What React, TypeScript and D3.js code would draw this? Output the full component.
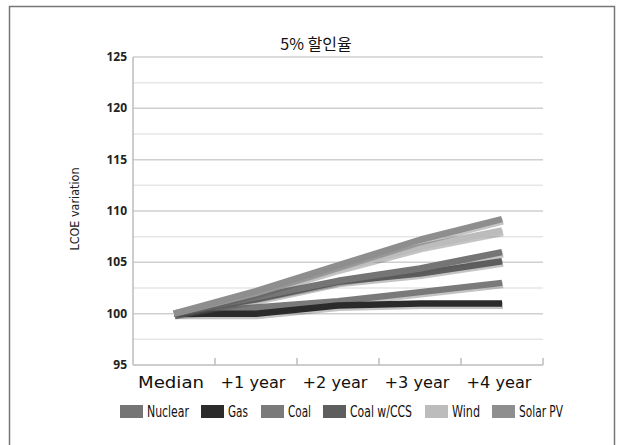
import React from "react";
import * as d3 from "d3";

const categories = ["Median", "+1 year", "+2 year", "+3 year", "+4 year"];
const yTicks = [95, 100, 105, 110, 115, 120, 125];
const seriesNames = ["Nuclear", "Gas", "Coal", "Coal w/CCS", "Wind", "Solar PV"];
const nuclear = [100, 101.6, 103.2, 104.4, 106];
const gas = [100, 100, 100.8, 101, 101];
const coal = [100, 100.6, 101.2, 102.1, 103];
const coalCCS = [100, 101.4, 103.1, 103.9, 105.1];
const wind = [100, 102, 104.4, 106.5, 108.1];
const solarPV = [100, 102.2, 104.7, 107.2, 109.2];
const colors = ["#757575", "#2b2b2b", "#7a7a7a", "#5e5e5e", "#bcbcbc", "#8e8e8e"];
const seriesValues = [nuclear, gas, coal, coalCCS, wind, solarPV];
const drawOrder = [2, 1, 3, 0, 4, 5];

const W = 618, H = 445;
const left = 133, right = 543, top = 57, bottom = 365;

export default function App() {
  const x = d3.scaleBand<string>().domain(categories).range([left, right]);
  const y = d3.scaleLinear().domain([95, 125]).range([bottom, top]);
  const line = d3
    .line<number>()
    .x((_, i) => (x(categories[i]) as number) + x.bandwidth() / 2)
    .y((d) => y(d));
  const minor = d3.range(97.5, 125, 5);
  const narrow = "'DejaVu Sans Condensed', 'Liberation Sans', Arial, sans-serif";
  const legendX = [120, 201, 261, 323, 425, 492];
  const legendW = [42, 20, 23, 62, 28, 44];

  return (
    <svg width={W} height={H} style={{ position: "absolute", left: 0, top: 0 }}>
      <rect x={0} y={0} width={W} height={H} fill="#fff" />
      <rect x={9.5} y={6.5} width={605} height={460} fill="none" stroke="#777" strokeWidth={1.5} />
      {minor.map((v) => (
        <line key={"m" + v} x1={left} x2={right} y1={y(v)} y2={y(v)} stroke="#e6e6e6" strokeWidth={1.5} />
      ))}
      {yTicks.slice(1).map((v) => (
        <line key={"g" + v} x1={left} x2={right} y1={y(v)} y2={y(v)} stroke="#cfcfcf" strokeWidth={1.5} />
      ))}
      <line x1={left} x2={left} y1={top} y2={bottom} stroke="#bdbdbd" strokeWidth={1.5} />
      <line x1={left} x2={right} y1={bottom} y2={bottom} stroke="#bdbdbd" strokeWidth={1.5} />
      {categories.map((c) => (
        <line key={"t" + c} x1={(x(c) as number) + x.bandwidth()} x2={(x(c) as number) + x.bandwidth()} y1={bottom - 7} y2={bottom} stroke="#bdbdbd" strokeWidth={1.5} />
      ))}
      {yTicks.map((v) => (
        <text key={"yl" + v} x={127} y={y(v) + 4} textAnchor="end" fontFamily="'Open Sans', 'DejaVu Sans', sans-serif" fontWeight="bold" fontSize={12} fill="#222">
          {v}
        </text>
      ))}
      <text transform={`translate(79,209) rotate(-90)`} textAnchor="middle" fontFamily={narrow} fontSize={13} fill="#222" textLength={83} lengthAdjust="spacingAndGlyphs">
        LCOE variation
      </text>
      <text x={316} y={50} textAnchor="middle" fontFamily="'Noto Sans CJK KR', 'DejaVu Sans', sans-serif" fontSize={16} fill="#111">
        5% 할인율
      </text>
      {categories.map((c, i) => (
        <text key={"xl" + c} x={(x(c) as number) + x.bandwidth() / 2 - 3} y={388} textAnchor="middle" fontFamily="'DejaVu Sans', sans-serif" fontSize={15} fill="#111" textLength={i === 0 ? 66 : 65} lengthAdjust="spacingAndGlyphs">
          {c}
        </text>
      ))}
      {drawOrder.map((i) => (
        <g key={"s" + i}>
          <path d={line(seriesValues[i]) as string} fill="none" stroke="#555" strokeOpacity={0.35} strokeWidth={7} transform="translate(1,2)" strokeLinejoin="round" />
          <path d={line(seriesValues[i]) as string} fill="none" stroke={colors[i]} strokeWidth={6.5} strokeLinejoin="round" />
        </g>
      ))}
      {seriesNames.map((n, i) => (
        <g key={"lg" + n}>
          <rect x={legendX[i]} y={405} width={23} height={13} fill={colors[i]} />
          <text x={legendX[i] + 27} y={417} fontFamily={narrow} fontSize={15} fill="#111" textLength={legendW[i]} lengthAdjust="spacingAndGlyphs">
            {n}
          </text>
        </g>
      ))}
    </svg>
  );
}
